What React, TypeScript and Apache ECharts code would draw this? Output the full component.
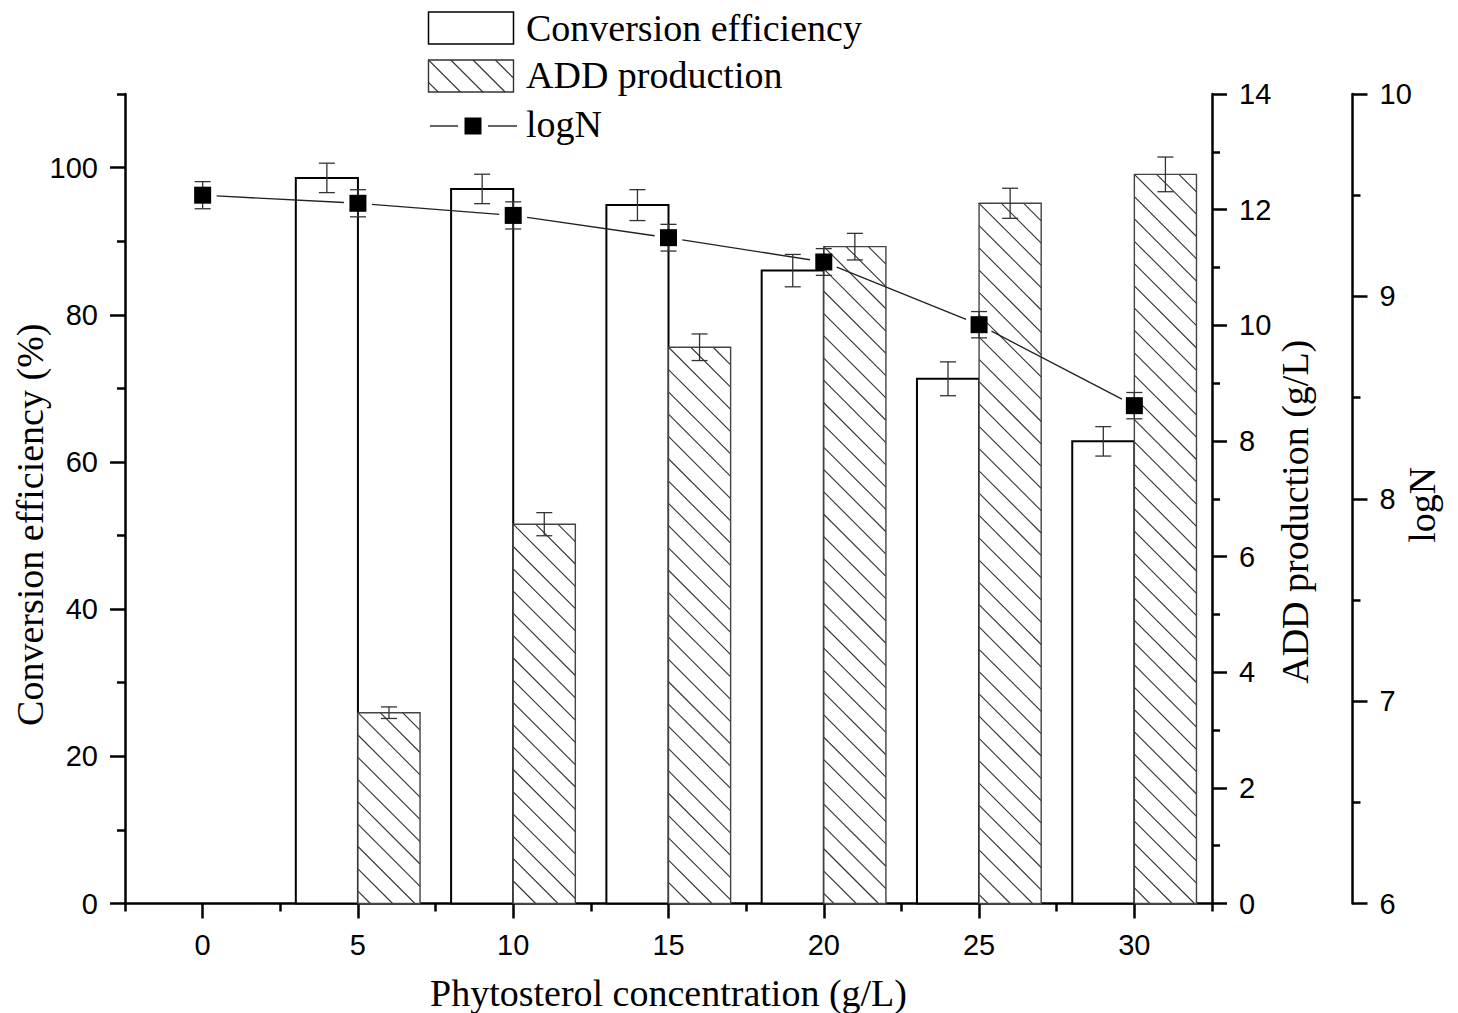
import React, { useEffect, useRef } from 'react';
import * as echarts from 'echarts';

const categories = ['0', '5', '10', '15', '20', '25', '30'];
const conversionEfficiency = [null, 98.6, 97.1, 94.9, 86.0, 71.3, 62.8];
const conversionError = [null, 2.0, 2.0, 2.1, 2.2, 2.3, 2.0];
const addProduction = [null, 3.3, 6.56, 9.62, 11.36, 12.11, 12.61];
const addError = [null, 0.1, 0.2, 0.23, 0.23, 0.26, 0.3];
const logN = [9.5, 9.46, 9.4, 9.29, 9.17, 8.86, 8.46];
const logNError = [0.067, 0.067, 0.067, 0.066, 0.066, 0.065, 0.065];

const leftMajorTicks = [0, 20, 40, 60, 80, 100];
const leftMinorTicks = [10, 30, 50, 70, 90, 110];

const SANS = "'Liberation Sans', Arial, sans-serif";
const SERIF = "'Liberation Serif', 'Times New Roman', serif";

function hatch(x0: number, y0: number, x1: number, y1: number, s: number) {
  const out: number[][] = [];
  const k0 = y0 - x0;
  const nMin = -Math.ceil((x1 - x0) / s) - 1;
  const nMax = Math.ceil((y1 - y0) / s) + 1;
  for (let n = nMin; n <= nMax; n++) {
    const k = k0 + n * s;
    const xa = Math.max(x0, y0 - k);
    const xb = Math.min(x1, y1 - k);
    if (xb - xa > 0.5) out.push([xa, xa + k, xb, xb + k]);
  }
  return out;
}

const HATCH_STEP = 22.3;
const errStyle = { stroke: '#333', lineWidth: 1.3 };

function errorBar(offsetFactor: number) {
  return (params: any, api: any) => {
    const i = api.value(0);
    const v = api.value(1);
    const e = api.value(2);
    const w = api.size([1, 0])[0];
    const hi = api.coord([i, v + e]);
    const lo = api.coord([i, v - e]);
    const x = hi[0] + offsetFactor * w;
    const cap = 8;
    return {
      type: 'group',
      children: [
        { type: 'line', shape: { x1: x, y1: hi[1], x2: x, y2: lo[1] }, style: errStyle },
        { type: 'line', shape: { x1: x - cap, y1: hi[1], x2: x + cap, y2: hi[1] }, style: errStyle },
        { type: 'line', shape: { x1: x - cap, y1: lo[1], x2: x + cap, y2: lo[1] }, style: errStyle },
      ],
    };
  };
}

function withIndex(values: (number | null)[], errs: (number | null)[]) {
  const out: number[][] = [];
  values.forEach((v, i) => {
    if (v !== null && v !== undefined) out.push([i, v, errs[i] as number]);
  });
  return out;
}

export default function App() {
  const ref = useRef<HTMLDivElement>(null);
  useEffect(() => {
    document.body.style.margin = '0';
    if (!ref.current) return;
    const chart = echarts.init(ref.current, null, { renderer: 'svg' });

    const legendHatch = hatch(428.5, 60, 513.5, 92, HATCH_STEP).map((l) => ({
      type: 'line',
      shape: { x1: l[0], y1: l[1], x2: l[2], y2: l[3] },
      style: { stroke: '#333', lineWidth: 1.1 },
    }));

    const option: any = {
      animation: false,
      backgroundColor: '#fff',
      grid: { left: 125, right: 246, top: 94, bottom: 109.5, containLabel: false, outerBoundsMode: 'none' },
      xAxis: [
        {
          type: 'category',
          data: categories,
          position: 'bottom',
          boundaryGap: true,
          axisLine: { show: true, lineStyle: { color: '#000', width: 2.5 } },
          axisTick: { show: true, interval: 0, alignWithLabel: false, length: 8, lineStyle: { color: '#000', width: 2.5 } },
          axisLabel: { show: false },
          splitLine: { show: false },
        },
        {
          type: 'category',
          data: categories,
          position: 'bottom',
          boundaryGap: true,
          axisLine: { show: false },
          axisTick: { show: true, interval: 0, alignWithLabel: true, length: 15, lineStyle: { color: '#000', width: 2.5 } },
          axisLabel: { show: true, interval: 0, margin: 27, fontSize: 29, fontFamily: SANS, color: '#000' },
          splitLine: { show: false },
          name: 'Phytosterol concentration (g/L)',
          nameLocation: 'middle',
          nameGap: 70,
          nameMoveOverlap: false,
          nameTextStyle: { fontSize: 38, fontFamily: SERIF, color: '#000' },
        },
      ],
      yAxis: [
        {
          type: 'value',
          position: 'left',
          min: 0,
          max: 110,
          interval: 20,
          axisLine: { show: true, lineStyle: { color: '#000', width: 2.5 } },
          axisTick: { show: true, customValues: leftMajorTicks, length: 15, lineStyle: { color: '#000', width: 2.5 } },
          axisLabel: { customValues: leftMajorTicks, margin: 27, fontSize: 29, fontFamily: SANS, color: '#000' },
          splitLine: { show: false },
          name: 'Conversion efficiency (%)',
          nameLocation: 'middle',
          nameGap: 76,
          nameMoveOverlap: false,
          nameTextStyle: { fontSize: 38, fontFamily: SERIF, color: '#000', padding: [0, 52, 0, 0] },
        },
        {
          type: 'value',
          position: 'left',
          min: 0,
          max: 110,
          axisLine: { show: false },
          axisTick: { show: true, customValues: leftMinorTicks, length: 8, lineStyle: { color: '#000', width: 2.5 } },
          axisLabel: { show: false },
          splitLine: { show: false },
        },
        {
          type: 'value',
          position: 'right',
          min: 0,
          max: 14,
          interval: 2,
          axisLine: { show: true, lineStyle: { color: '#000', width: 2.5 } },
          axisTick: { show: true, length: 15, lineStyle: { color: '#000', width: 2.5 } },
          minorTick: { show: true, splitNumber: 2, length: 8, lineStyle: { color: '#000', width: 2.5 } },
          axisLabel: { margin: 27, fontSize: 29, fontFamily: SANS, color: '#000' },
          splitLine: { show: false },
          name: 'ADD production (g/L)',
          nameLocation: 'middle',
          nameGap: 64,
          nameMoveOverlap: false,
          nameTextStyle: { fontSize: 38, fontFamily: SERIF, color: '#000', padding: [0, 26, 0, 0] },
        },
        {
          type: 'value',
          position: 'right',
          offset: 140.5,
          min: 6,
          max: 10,
          interval: 1,
          axisLine: { show: true, lineStyle: { color: '#000', width: 2.5 } },
          axisTick: { show: true, length: 15, lineStyle: { color: '#000', width: 2.5 } },
          minorTick: { show: true, splitNumber: 2, length: 8, lineStyle: { color: '#000', width: 2.5 } },
          axisLabel: { margin: 27, fontSize: 29, fontFamily: SANS, color: '#000' },
          splitLine: { show: false },
          name: 'logN',
          nameLocation: 'middle',
          nameGap: 50,
          nameMoveOverlap: false,
          nameTextStyle: { fontSize: 38, fontFamily: SERIF, color: '#000', padding: [0, 12, 0, 0] },
        },
      ],
      series: [
        {
          name: 'Conversion efficiency',
          type: 'custom',
          xAxisIndex: 0,
          yAxisIndex: 0,
          z: 2,
          encode: { x: 0, y: 1 },
          data: withIndex(conversionEfficiency, conversionError),
          renderItem: (params: any, api: any) => {
            const i = api.value(0);
            const v = api.value(1);
            const top = api.coord([i, v]);
            const base = api.coord([i, 0]);
            const w = api.size([1, 0])[0] * 0.4;
            return {
              type: 'rect',
              shape: { x: top[0] - w, y: top[1], width: w, height: base[1] - top[1] },
              style: { fill: '#fff', stroke: '#000', lineWidth: 2 },
            };
          },
        },
        {
          name: 'ADD production',
          type: 'custom',
          xAxisIndex: 0,
          yAxisIndex: 2,
          z: 2,
          encode: { x: 0, y: 1 },
          data: withIndex(addProduction, addError),
          renderItem: (params: any, api: any) => {
            const i = api.value(0);
            const v = api.value(1);
            const top = api.coord([i, v]);
            const base = api.coord([i, 0]);
            const w = api.size([1, 0])[0] * 0.4;
            const x0 = top[0];
            const x1 = top[0] + w;
            const y0 = top[1];
            const y1 = base[1];
            const children: any[] = [
              { type: 'rect', shape: { x: x0, y: y0, width: w, height: y1 - y0 }, style: { fill: '#fff', stroke: 'none' } },
            ];
            hatch(x0, y0, x1, y1, HATCH_STEP).forEach((l) => {
              children.push({ type: 'line', shape: { x1: l[0], y1: l[1], x2: l[2], y2: l[3] }, style: { stroke: '#333', lineWidth: 1.1 } });
            });
            children.push({ type: 'rect', shape: { x: x0, y: y0, width: w, height: y1 - y0 }, style: { fill: 'none', stroke: '#444', lineWidth: 1.4 } });
            return { type: 'group', children };
          },
        },
        {
          name: 'logN line',
          type: 'custom',
          xAxisIndex: 0,
          yAxisIndex: 3,
          z: 3,
          encode: { x: 0, y: 1 },
          data: logN.slice(0, -1).map((v, i) => [i, v, logN[i + 1]]),
          renderItem: (params: any, api: any) => {
            const i = api.value(0);
            const a = api.coord([i, api.value(1)]);
            const b = api.coord([i + 1, api.value(2)]);
            const dx = b[0] - a[0];
            const dy = b[1] - a[1];
            const len = Math.sqrt(dx * dx + dy * dy);
            const g = 14;
            const ux = dx / len;
            const uy = dy / len;
            return {
              type: 'line',
              shape: { x1: a[0] + ux * g, y1: a[1] + uy * g, x2: b[0] - ux * g, y2: b[1] - uy * g },
              style: { stroke: '#222', lineWidth: 1.4 },
            };
          },
        },
        {
          name: 'Conversion error',
          type: 'custom',
          xAxisIndex: 0,
          yAxisIndex: 0,
          z: 4,
          encode: { x: 0, y: 1 },
          data: withIndex(conversionEfficiency, conversionError),
          renderItem: errorBar(-0.2),
        },
        {
          name: 'ADD error',
          type: 'custom',
          xAxisIndex: 0,
          yAxisIndex: 2,
          z: 4,
          encode: { x: 0, y: 1 },
          data: withIndex(addProduction, addError),
          renderItem: errorBar(0.2),
        },
        {
          name: 'logN error',
          type: 'custom',
          xAxisIndex: 0,
          yAxisIndex: 3,
          z: 4,
          encode: { x: 0, y: 1 },
          data: withIndex(logN, logNError),
          renderItem: errorBar(0),
        },
        {
          name: 'logN',
          type: 'scatter',
          xAxisIndex: 0,
          yAxisIndex: 3,
          z: 5,
          symbol: 'rect',
          symbolSize: 17,
          itemStyle: { color: '#000', opacity: 1 },
          emphasis: { disabled: true },
          data: logN.map((v, i) => [i, v]),
        },
      ],
      graphic: [
        { type: 'rect', shape: { x: 428.5, y: 12, width: 85, height: 32 }, style: { fill: '#fff', stroke: '#000', lineWidth: 1.5 } },
        { type: 'text', x: 526, y: 28, style: { text: 'Conversion efficiency', font: `38px ${SERIF}`, fill: '#000', verticalAlign: 'middle', align: 'left' } },
        { type: 'rect', shape: { x: 428.5, y: 60, width: 85, height: 32 }, style: { fill: '#fff', stroke: 'none' } },
        ...legendHatch,
        { type: 'rect', shape: { x: 428.5, y: 60, width: 85, height: 32 }, style: { fill: 'none', stroke: '#333', lineWidth: 1.4 } },
        { type: 'text', x: 526, y: 75, style: { text: 'ADD production', font: `38px ${SERIF}`, fill: '#000', verticalAlign: 'middle', align: 'left' } },
        { type: 'line', shape: { x1: 430, y1: 126, x2: 458, y2: 126 }, style: { stroke: '#222', lineWidth: 1.4 } },
        { type: 'rect', shape: { x: 464.5, y: 117.5, width: 17, height: 17 }, style: { fill: '#000' } },
        { type: 'line', shape: { x1: 488, y1: 126, x2: 517, y2: 126 }, style: { stroke: '#222', lineWidth: 1.4 } },
        { type: 'text', x: 526, y: 124, style: { text: 'logN', font: `38px ${SERIF}`, fill: '#000', verticalAlign: 'middle', align: 'left' } },
      ],
    };

    chart.setOption(option);
    return () => chart.dispose();
  }, []);

  return <div ref={ref} style={{ width: 1458, height: 1013 }} />;
}
